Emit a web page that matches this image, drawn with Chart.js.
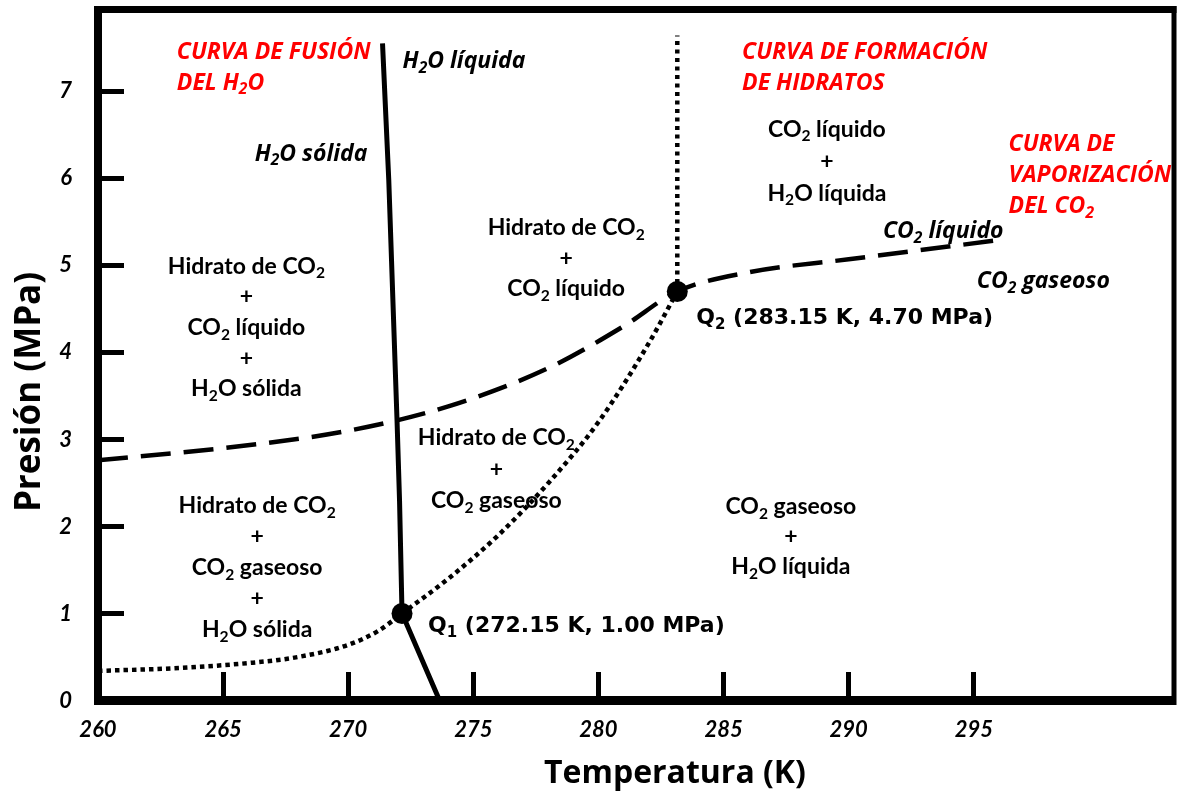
<!DOCTYPE html>
<html lang="es">
<head>
<meta charset="utf-8">
<title>Diagrama de fases CO2 - H2O</title>
<script src="https://cdn.jsdelivr.net/npm/chart.js@4.4.1/dist/chart.umd.min.js"></script>
<style>
  html, body { margin: 0; padding: 0; background: #fff; }
  #wrap { width: 1177px; height: 795px; }
</style>
</head>
<body>
<div id="wrap"><canvas id="fases" width="1177" height="795"></canvas></div>
<script>
// ejes
const xTicks = [260, 265, 270, 275, 280, 285, 290, 295];
const yTicks = [0, 1, 2, 3, 4, 5, 6, 7];

// puntos cuadruples (K, MPa)
const qNames = ['Q_1', 'Q_2'];
const qT = [272.15, 283.15];
const qP = [1.00, 4.70];

// curva de fusion del H2O
const fusionT = [271.37, 271.62, 271.95, 272.05, 272.15, 273.65];
const fusionP = [7.55, 5.98, 3.22, 2.30, 1.00, 0];

// curva de vaporizacion del CO2
const vapT = [260, 265, 270, 274, 278, 281, 283.15, 286, 290, 296];
const vapP = [2.76, 2.90, 3.10, 3.38, 3.82, 4.30, 4.70, 4.92, 5.07, 5.29];

// curva de formacion de hidratos (tramo bajo y tramo vertical sobre Q2)
const hidT = [260, 263, 266, 268, 270, 271.2, 272.15, 274, 276, 278, 280, 282, 283.15];
const hidP = [0.34, 0.37, 0.43, 0.50, 0.64, 0.80, 1.00, 1.40, 1.90, 2.50, 3.20, 4.10, 4.70];
const hidTopT = [283.15, 283.15];
const hidTopP = [4.70, 7.64];

const xy = (t, p) => t.map((v, i) => ({ x: v, y: p[i] }));

// textos de las regiones: posicion en (K, MPa), gap = separacion entre lineas en px
const ROJO = { style: 'italic', weight: 'bold', size: 23, family: '"Open Sans"', color: '#ff0000' };
const FASE = { style: 'italic', weight: 'bold', size: 23, family: '"Open Sans"', color: '#000' };
const ZONA = { style: 'normal', weight: 'bold', size: 23, family: 'Lato', color: '#000' };

const etiquetas = [
  { t: 263.15, p: 7.47, gap: 31, align: 'left', f: ROJO, lines: ['CURVA DE FUSIÓN', 'DEL H_2O'] },
  { t: 285.74, p: 7.47, gap: 31, align: 'left', f: ROJO, lines: ['CURVA DE FORMACIÓN', 'DE HIDRATOS'] },
  { t: 296.39, p: 6.41, gap: 31, align: 'left', f: ROJO, lines: ['CURVA DE', 'VAPORIZACIÓN', 'DEL CO_2'] },
  { t: 272.17, p: 7.36, gap: 0, align: 'left', f: FASE, lines: ['H_2O líquida'] },
  { t: 266.26, p: 6.30, gap: 0, align: 'left', f: FASE, lines: ['H_2O sólida'] },
  { t: 291.37, p: 5.41, gap: 0, align: 'left', f: FASE, lines: ['CO_2 líquido'] },
  { t: 295.12, p: 4.83, gap: 0, align: 'left', f: FASE, lines: ['CO_2 gaseoso'] },
  { t: 265.93, p: 5.00, gap: 30.7, align: 'center', f: ZONA, lines: ['Hidrato de CO_2', '+', 'CO_2 líquido', '+', 'H_2O sólida'] },
  { t: 266.36, p: 2.245, gap: 31, align: 'center', f: ZONA, lines: ['Hidrato de CO_2', '+', 'CO_2 gaseoso', '+', 'H_2O sólida'] },
  { t: 278.71, p: 5.44, gap: 30.5, align: 'center', f: ZONA, lines: ['Hidrato de CO_2', '+', 'CO_2 líquido'] },
  { t: 275.92, p: 3.03, gap: 31.5, align: 'center', f: ZONA, lines: ['Hidrato de CO_2', '+', 'CO_2 gaseoso'] },
  { t: 289.13, p: 6.575, gap: 32, align: 'center', f: ZONA, lines: ['CO_2 líquido', '+', 'H_2O líquida'] },
  { t: 287.69, p: 2.235, gap: 30, align: 'center', f: ZONA, lines: ['CO_2 gaseoso', '+', 'H_2O líquida'] }
];

const QFONT = { style: 'normal', weight: 'bold', size: 22, family: '"DejaVu Sans"', color: '#000' };
const qOffset = [[26, 11], [19, 25]];

function fontStr(f, k) {
  return f.style + ' ' + f.weight + ' ' + (f.size * k).toFixed(1) + 'px ' + f.family;
}

// "_2" marca un subindice
function drawRich(ctx, text, x, y, f, align) {
  const parts = text.split(/_(\d)/);
  let w = 0;
  parts.forEach((s, i) => {
    ctx.font = fontStr(f, i % 2 ? 0.68 : 1);
    w += ctx.measureText(s).width;
  });
  let cx = align === 'center' ? x - w / 2 : x;
  const base = y + f.size * 0.36;
  ctx.fillStyle = f.color;
  parts.forEach((s, i) => {
    const sub = i % 2 === 1;
    ctx.font = fontStr(f, sub ? 0.68 : 1);
    ctx.fillText(s, cx, sub ? base + f.size * 0.2 : base);
    cx += ctx.measureText(s).width;
  });
}

const marco = {
  id: 'marco',
  afterDraw(chart) {
    const { ctx, chartArea: a } = chart;
    ctx.save();
    ctx.strokeStyle = '#000';
    ctx.lineWidth = 7;
    ctx.beginPath(); ctx.moveTo(a.left - 4, a.top); ctx.lineTo(a.right + 2.5, a.top); ctx.stroke();
    ctx.lineWidth = 5;
    ctx.beginPath(); ctx.moveTo(a.right, a.top - 3.5); ctx.lineTo(a.right, a.bottom + 4.5); ctx.stroke();
    ctx.restore();
  }
};

const textos = {
  id: 'textos',
  afterDatasetsDraw(chart) {
    const { ctx } = chart;
    const sx = chart.scales.x, sy = chart.scales.y;
    ctx.save();
    ctx.textAlign = 'left';
    ctx.textBaseline = 'alphabetic';
    etiquetas.forEach(e => {
      const x = sx.getPixelForValue(e.t);
      const y0 = sy.getPixelForValue(e.p);
      e.lines.forEach((l, i) => drawRich(ctx, l, x, y0 + i * e.gap, e.f, e.align));
    });
    qT.forEach((t, i) => {
      const txt = qNames[i] + ' (' + t.toFixed(2) + ' K, ' + qP[i].toFixed(2) + ' MPa)';
      drawRich(ctx, txt, sx.getPixelForValue(t) + qOffset[i][0], sy.getPixelForValue(qP[i]) + qOffset[i][1], QFONT, 'left');
    });
    // titulos de los ejes
    drawRich(ctx, 'Temperatura (K)', 675, 771, { style: 'normal', weight: 'bold', size: 32, family: '"Open Sans"', color: '#000' }, 'center');
    ctx.translate(27, 392);
    ctx.rotate(-Math.PI / 2);
    drawRich(ctx, 'Presión (MPa)', 0, 0, { style: 'normal', weight: 'bold', size: 35, family: '"Open Sans"', color: '#000' }, 'center');
    ctx.restore();
  }
};

const tickFont = { family: 'Lato', size: 22, style: 'italic', weight: 'bold' };

new Chart(document.getElementById('fases'), {
  type: 'scatter',
  data: {
    datasets: [
      { label: 'Q', data: xy(qT, qP), showLine: false, pointRadius: 10.5, pointBackgroundColor: '#000', pointBorderWidth: 0 },
      { label: 'Curva de fusión del H2O', data: xy(fusionT, fusionP), showLine: true, borderColor: '#000', borderWidth: 5, pointRadius: 0, tension: 0 },
      { label: 'Curva de vaporización del CO2', data: xy(vapT, vapP), showLine: true, borderColor: '#000', borderWidth: 4.5, borderDash: [30, 13], pointRadius: 0, cubicInterpolationMode: 'monotone' },
      { label: 'Curva de formación de hidratos', data: xy(hidT, hidP), showLine: true, borderColor: '#000', borderWidth: 4.5, borderDash: [4.5, 4], pointRadius: 0, cubicInterpolationMode: 'monotone' },
      { label: 'Curva de formación de hidratos (vertical)', data: xy(hidTopT, hidTopP), showLine: true, borderColor: '#000', borderWidth: 4.5, borderDash: [4, 4.5], pointRadius: 0 }
    ]
  },
  options: {
    responsive: false,
    animation: false,
    devicePixelRatio: 1,
    layout: { autoPadding: false, padding: { top: 9.5, right: 3, left: 0, bottom: 0 } },
    plugins: { legend: { display: false }, tooltip: { enabled: false } },
    scales: {
      x: {
        type: 'linear', min: 260, max: 303,
        afterBuildTicks: s => { s.ticks = xTicks.map(v => ({ value: v })); },
        afterFit: s => { s.height = 94.5; s.paddingLeft = 0; s.paddingRight = 0; },
        border: { color: '#000', width: 9 },
        grid: { drawOnChartArea: false, tickLength: -28.5, tickWidth: 5, tickColor: '#000' },
        ticks: { padding: 45, color: '#000', font: tickFont, maxRotation: 0 }
      },
      y: {
        type: 'linear', min: 0, max: 7.94,
        afterBuildTicks: s => { s.ticks = yTicks.map(v => ({ value: v })); },
        afterFit: s => { s.width = 98; s.paddingTop = 0; s.paddingBottom = 0; },
        border: { color: '#000', width: 8 },
        grid: { drawOnChartArea: false, tickLength: -26, tickWidth: 5, tickColor: '#000' },
        ticks: { padding: 52, color: '#000', font: tickFont }
      }
    }
  },
  plugins: [marco, textos]
});
</script>
</body>
</html>
